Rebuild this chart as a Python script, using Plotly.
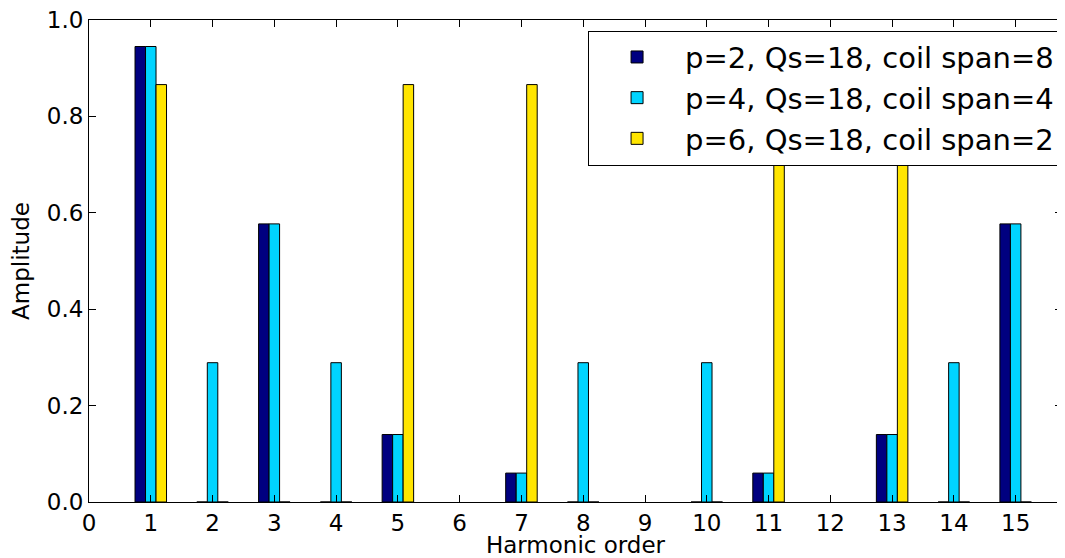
import plotly.graph_objects as go

harmonics = [1, 2, 3, 4, 5, 7, 8, 10, 11, 13, 14, 15]
amp_p2 = [0.945, 0.0, 0.577, 0.0, 0.140, 0.060, 0.0, 0.0, 0.060, 0.140, 0.0, 0.577]
amp_p4 = [0.945, 0.289, 0.577, 0.289, 0.140, 0.060, 0.289, 0.289, 0.060, 0.140, 0.289, 0.577]
amp_p6 = [0.866, 0.0, 0.0, 0.0, 0.866, 0.866, 0.0, 0.0, 0.866, 0.866, 0.0, 0.0]
names = ["p=2, Qs=18, coil span=8", "p=4, Qs=18, coil span=4", "p=6, Qs=18, coil span=2"]
x_ticks = list(range(0, 16))
y_ticks = [0.0, 0.2, 0.4, 0.6, 0.8, 1.0]

colors = ["#000080", "#00D4FF", "#FFE500"]
bw = 0.17
offsets = [-1.5 * bw, -0.5 * bw, 0.5 * bw]

fig = go.Figure()
for vals, name, col, off in zip([amp_p2, amp_p4, amp_p6], names, colors, offsets):
    fig.add_trace(go.Bar(
        x=harmonics, y=vals, name=name, width=bw, offset=off,
        marker=dict(color=col, line=dict(color="black", width=1)),
    ))

font = "DejaVu Sans"
# page body has an 8px margin; figure is sized so the plot area lands where the reference has it
fig.update_layout(
    width=1057, height=550,
    barmode="overlay",
    paper_bgcolor="white", plot_bgcolor="white",
    margin=dict(l=81, r=3, t=12, b=56),
    font=dict(family=font, size=23, color="black"),
    showlegend=True,
    legend=dict(
        x=0.998, xanchor="right", y=0.978, yanchor="top",
        bgcolor="white", bordercolor="black", borderwidth=1,
        font=dict(family=font, size=29, color="black"),
        itemwidth=86, tracegroupgap=0,
    ),
    xaxis=dict(
        range=[0, 15.75], tickvals=x_ticks, ticktext=[str(v) for v in x_ticks],
        ticks="inside", ticklen=7, tickcolor="black",
        showline=True, linecolor="black", linewidth=1, mirror="ticks",
        showgrid=False, zeroline=False, automargin=False,
        ticklabeloverflow="allow",
        title=dict(text="Harmonic order", standoff=9, font=dict(size=23)),
        tickfont=dict(size=23),
    ),
    yaxis=dict(
        range=[0, 1.0], tickvals=y_ticks, tickformat=".1f",
        ticks="inside", ticklen=7, tickcolor="black",
        showline=True, linecolor="black", linewidth=1, mirror="ticks",
        showgrid=False, zeroline=False, automargin=False,
        ticklabeloverflow="allow",
        title=dict(text="Amplitude", standoff=13, font=dict(size=23)),
        tickfont=dict(size=23),
    ),
)

fig.write_html("out.html")
